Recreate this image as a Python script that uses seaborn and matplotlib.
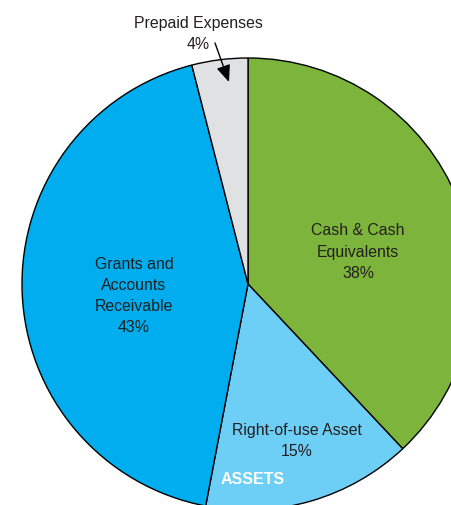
# Assets breakdown pie chart
import matplotlib
matplotlib.use("Agg")
import matplotlib.pyplot as plt
import seaborn as sns

# ============================
# Data
# ============================
categories = ["Cash & Cash\nEquivalents", "Right-of-use Asset",
              "Grants and\nAccounts\nReceivable", "Prepaid Expenses"]
shares = [38, 15, 43, 4]
slice_colors = ["#7db43c", "#6dcff6", "#00aeef", "#e0e1e3"]

sns.set_theme(style="white")
plt.rcParams['font.family'] = ['Liberation Sans', 'DejaVu Sans']

fig = plt.figure(figsize=(4.51, 5.06), dpi=100)
ax = fig.add_axes([0, 0, 1, 1])

# pie in pixel-like units, radius 226, centre at (0, 0)
ax.pie(shares, colors=slice_colors, startangle=90, counterclock=False,
       radius=226, center=(0, 0),
       wedgeprops=dict(edgecolor="black", linewidth=1.0))

ax.set_xlim(-248, 451 - 248)
ax.set_ylim(285 - 506, 285)
ax.set_aspect("auto")
ax.axis("off")

fs = 11.4
ls = 1.5
# slice labels
ax.text(110, 33, f"{categories[0]}\n{shares[0]}%", ha="center", va="center",
        fontsize=fs, linespacing=ls, color="#231f20")
ax.text(49, -156, f"{categories[1]}\n{shares[1]}%", ha="center", va="center",
        fontsize=fs, linespacing=ls, color="#231f20")
ax.text(-114, -11, f"{categories[2]}\n{shares[2]}%", ha="center", va="center",
        fontsize=fs, linespacing=ls, color="#231f20")
ax.text(-50, 251, f"{categories[3]}\n{shares[3]}%", ha="center", va="center",
        fontsize=fs, linespacing=ls, color="#231f20")

# arrow for the small slice
ax.annotate("", xy=(-19, 202), xytext=(-33, 241),
            arrowprops=dict(arrowstyle="-|>,head_length=0.6,head_width=0.25",
                            mutation_scale=17, color="black", lw=1,
                            shrinkA=0, shrinkB=0))

ax.text(5, -195, "ASSETS", ha="center", va="center", fontsize=11.5,
        fontweight="bold", color="white")

fig.savefig("out.png", dpi=100)
